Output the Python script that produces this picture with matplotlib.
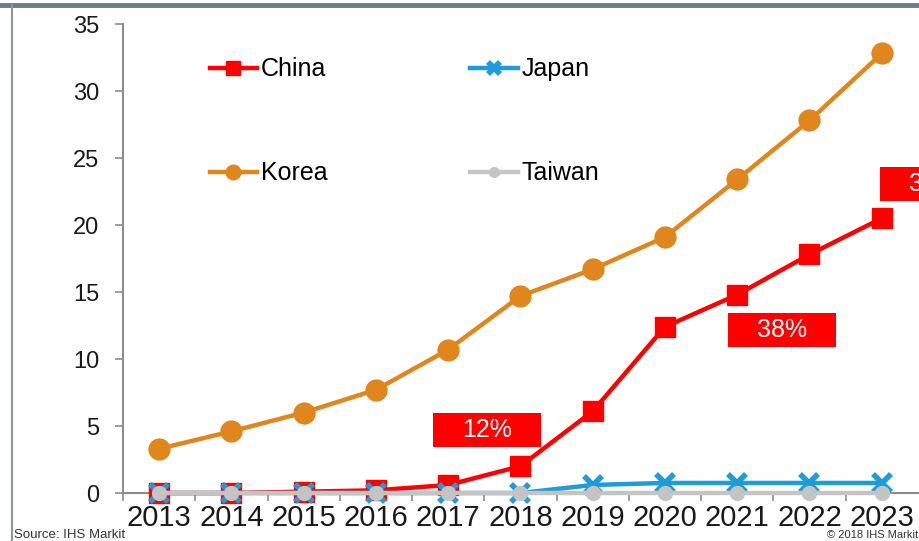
import matplotlib
matplotlib.use("Agg")
import matplotlib.pyplot as plt
from matplotlib.lines import Line2D
from matplotlib.patches import Rectangle

plt.rcParams["font.family"] = ["Liberation Sans", "DejaVu Sans"]

years = [2013, 2014, 2015, 2016, 2017, 2018, 2019, 2020, 2021, 2022, 2023]
china = [0.0, 0.0, 0.1, 0.2, 0.6, 2.0, 6.1, 12.4, 14.8, 17.8, 20.5]
japan = [0.0, 0.0, 0.0, 0.0, 0.0, 0.0, 0.6, 0.75, 0.75, 0.75, 0.75]
korea = [3.3, 4.6, 6.0, 7.7, 10.7, 14.7, 16.7, 19.1, 23.4, 27.8, 32.8]
taiwan = [0.0, 0.0, 0.0, 0.0, 0.0, 0.0, 0.0, 0.0, 0.0, 0.0, 0.0]

# share callouts: (text, centre year, centre value)
callouts = [("12%", 2017.54, 4.7), ("38%", 2021.62, 12.17), ("35%", 2023.72, 23.05)]

RED = "#FF0000"
BLUE = "#1E9CD7"
ORANGE = "#E0861C"
GREY = "#C4C4C4"
AXIS = "#8C8C8C"

fig = plt.figure(figsize=(9.2, 5.41), dpi=100)
ax = fig.add_axes([0.1337, 0.0887, 0.864, 0.8669])

common = dict(lw=3.2, clip_on=False)
ax.plot(years, china, color=RED, marker="s", ms=15, mec=RED, zorder=3, label="China", **common)
ax.plot(years, korea, color=ORANGE, marker="o", ms=15, mec=ORANGE, zorder=4, label="Korea", **common)
ax.plot(years, japan, color=BLUE, marker="x", ms=13, mew=4, mec=BLUE, zorder=5, label="Japan", **common)
ax.plot(years, taiwan, color=GREY, marker="o", ms=10, mec=GREY, zorder=6, label="Taiwan", **common)

for text, cx, cy in callouts:
    w, h = 1.49, 2.54
    ax.add_patch(Rectangle((cx - w / 2, cy - h / 2), w, h, facecolor=RED,
                           edgecolor="none", zorder=7, clip_on=False))
    ax.text(cx, cy, text, color="white", fontsize=18, ha="center", va="center",
            zorder=8, clip_on=False)

ax.set_xlim(2012.5, 2023.5)
ax.set_ylim(0, 35)
ax.set_yticks(range(0, 36, 5))
ax.set_xticks(years)
ax.set_xticks([y + 0.5 for y in [2012] + years[:-1]], minor=True)
ax.tick_params(axis="x", which="major", length=0, pad=8, labelsize=21, labelcolor="#1a1a1a")
ax.tick_params(axis="x", which="minor", length=6, width=1.2, color=AXIS)
ax.tick_params(axis="y", length=6, width=1.2, color=AXIS, pad=11, labelsize=17, labelcolor="#1a1a1a")

for side in ["top", "right"]:
    ax.spines[side].set_visible(False)
for side in ["left", "bottom"]:
    ax.spines[side].set_color(AXIS)
    ax.spines[side].set_linewidth(1.5)

handles, labels = ax.get_legend_handles_labels()
# China, Korea, Japan, Taiwan -> column-first fill gives China/Japan on top row
ax.legend(handles, labels, ncol=2,
          loc="upper left", bbox_to_anchor=(0.109, 0.929), frameon=False,
          fontsize=18, labelspacing=3.2, columnspacing=5.7, handlelength=1.9,
          handletextpad=0.15, borderpad=0, borderaxespad=0, markerscale=0.7)

# page frame pieces from the original slide
fig.add_artist(Line2D([0, 1], [0.99, 0.99], color="#6F7A84", lw=3.5))
fig.add_artist(Line2D([0.013, 0.013], [0, 0.99], color="#8E959B", lw=1.5))

fig.text(0.015, 0.006, "Source: IHS Markit", fontsize=9.5, color="#333333")
fig.text(0.998, 0.006, "\u00a9 2018 IHS Markit", fontsize=8, color="#333333", ha="right")

fig.savefig("out.png", dpi=100)
